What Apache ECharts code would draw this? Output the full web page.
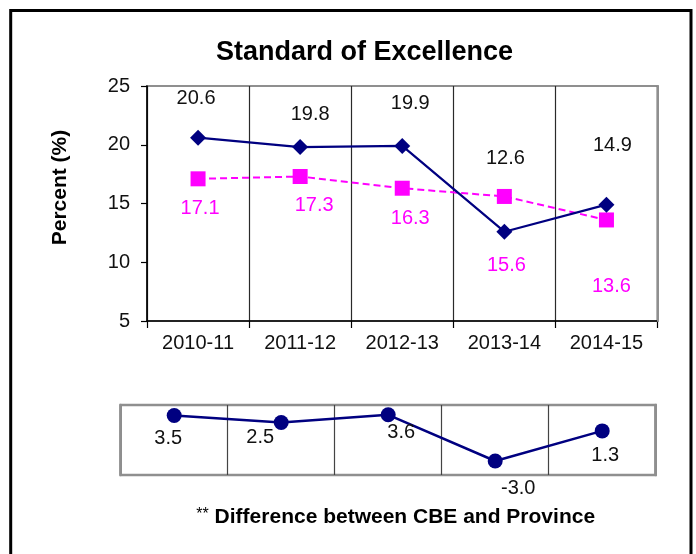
<!DOCTYPE html>
<html>
<head>
<meta charset="utf-8">
<script src="https://cdn.jsdelivr.net/npm/echarts@6/dist/echarts.min.js"></script>
<style>
html,body{margin:0;padding:0;background:#fff;}
#chart{width:696px;height:554px;}
</style>
</head>
<body>
<div id="chart"></div>
<script>
// ---- data ----
const categories = ['2010-11', '2011-12', '2012-13', '2013-14', '2014-15'];
const cbeValues = [20.6, 19.8, 19.9, 12.6, 14.9];
const provinceValues = [17.1, 17.3, 16.3, 15.6, 13.6];
const differenceValues = [3.5, 2.5, 3.6, -3.0, 1.3];
const yTickMin = 5;
const yTickMax = 25;
const yTickStep = 5;
const diffMin = -5;
const diffMax = 5;

// ---- label placement (style) ----
const cbeLabelOffsets = [[-2, -39], [10, -33], [8, -42], [1, -73], [6, -59]];
const provLabelOffsets = [[2, 30], [14, 29], [8, 30], [2, 69], [5, 67]];
const diffLabelOffsets = [[-6, 23], [-21, 15], [13, 18], [23, 27], [3, 25]];

const FONT = 'Liberation Sans, Arial, sans-serif';
const NAVY = '#000080';
const MAGENTA = '#FF00FF';
const BORDER_GRAY = '#8f8f8f';
const DIVIDER = '#2a2a2a';

function withLabels(values, offsets) {
  return values.map((v, i) => ({ value: v, label: { offset: offsets[i] } }));
}
const fmt = p => Number(p.value).toFixed(1);

const chart = echarts.init(document.getElementById('chart'), null, { renderer: 'canvas' });

const option = {
  backgroundColor: '#ffffff',
  animation: false,
  textStyle: { fontFamily: FONT },
  title: {
    text: 'Standard of Excellence',
    left: 211,
    top: 34,
    textStyle: { fontFamily: FONT, fontSize: 27, fontWeight: 'bold', color: '#000' }
  },
  grid: [
    { left: 147, top: 86, width: 510.5, height: 235, show: true, borderColor: BORDER_GRAY, borderWidth: 2, backgroundColor: 'transparent' },
    { left: 120.7, top: 405, width: 535, height: 70, show: true, borderColor: BORDER_GRAY, borderWidth: 2.5, backgroundColor: 'transparent' }
  ],
  xAxis: [
    {
      type: 'category', gridIndex: 0, data: categories, boundaryGap: true,
      axisLine: { show: true, lineStyle: { color: '#000', width: 1.5 } },
      axisTick: { show: true, alignWithLabel: false, length: 7, lineStyle: { color: '#000', width: 1.2 } },
      axisLabel: { show: true, fontFamily: FONT, fontSize: 20, color: '#111', margin: 12, interval: 0 },
      splitLine: { show: true, lineStyle: { color: DIVIDER, width: 1.2 } }
    },
    {
      type: 'category', gridIndex: 1, data: categories, boundaryGap: true,
      axisLine: { show: false }, axisTick: { show: false }, axisLabel: { show: false },
      splitLine: { show: true, lineStyle: { color: '#444', width: 1.2 } }
    }
  ],
  yAxis: [
    {
      type: 'value', gridIndex: 0, min: yTickMin, max: yTickMax, interval: yTickStep,
      name: 'Percent (%)', nameLocation: 'middle', nameGap: 76, nameRotate: 90,
      nameTextStyle: { fontFamily: FONT, fontSize: 21, fontWeight: 'bold', color: '#000', padding: [0, 0, 0, 32] },
      axisLine: { show: true, lineStyle: { color: '#000', width: 1.5 } },
      axisTick: { show: true, length: 6, lineStyle: { color: '#000', width: 1.2 } },
      axisLabel: { show: true, fontFamily: FONT, fontSize: 20, color: '#111', margin: 17 },
      splitLine: { show: false }
    },
    {
      type: 'value', gridIndex: 0, position: 'right', min: yTickMin, max: yTickMax, interval: yTickStep, z: 5,
      axisLine: { show: true, lineStyle: { color: BORDER_GRAY, width: 2 } },
      axisTick: { show: false }, axisLabel: { show: false }, splitLine: { show: false }
    },
    {
      type: 'value', gridIndex: 1, min: diffMin, max: diffMax, z: 5,
      axisLine: { show: true, lineStyle: { color: BORDER_GRAY, width: 2.5 } },
      axisTick: { show: false }, axisLabel: { show: false }, splitLine: { show: false }
    },
    {
      type: 'value', gridIndex: 1, position: 'right', min: diffMin, max: diffMax, z: 5,
      axisLine: { show: true, lineStyle: { color: BORDER_GRAY, width: 2.5 } },
      axisTick: { show: false }, axisLabel: { show: false }, splitLine: { show: false }
    }
  ],
  series: [
    {
      name: 'CBE', type: 'line', xAxisIndex: 0, yAxisIndex: 0, z: 4,
      data: withLabels(cbeValues, cbeLabelOffsets),
      symbol: 'diamond', symbolSize: 16,
      itemStyle: { color: NAVY },
      lineStyle: { color: NAVY, width: 2.2 },
      label: { show: true, position: 'inside', formatter: fmt, color: '#111', fontFamily: FONT, fontSize: 20, align: 'center', verticalAlign: 'middle' }
    },
    {
      name: 'Province', type: 'line', xAxisIndex: 0, yAxisIndex: 0, z: 3,
      data: withLabels(provinceValues, provLabelOffsets),
      symbol: 'rect', symbolSize: 15,
      itemStyle: { color: MAGENTA },
      lineStyle: { color: MAGENTA, width: 2, type: [7, 4] },
      label: { show: true, position: 'inside', formatter: fmt, color: MAGENTA, fontFamily: FONT, fontSize: 20, align: 'center', verticalAlign: 'middle' }
    },
    {
      name: 'Difference', type: 'line', xAxisIndex: 1, yAxisIndex: 2, z: 4,
      data: withLabels(differenceValues, diffLabelOffsets),
      symbol: 'circle', symbolSize: 15,
      itemStyle: { color: NAVY },
      lineStyle: { color: NAVY, width: 2.5 },
      label: { show: true, position: 'inside', formatter: fmt, color: '#111', fontFamily: FONT, fontSize: 20, align: 'center', verticalAlign: 'middle' }
    }
  ],
  graphic: [
    {
      type: 'rect', z: 100, silent: true,
      shape: { x: 10.7, y: 10.5, width: 680.3, height: 570 },
      style: { fill: 'none', stroke: '#000', lineWidth: 3 }
    },
    {
      type: 'text', z: 100, x: 395.7, y: 517,
      style: {
        text: '{s|**} Difference between CBE and Province',
        textAlign: 'center', textVerticalAlign: 'middle',
        rich: {
          s: { fontFamily: FONT, fontSize: 16, fontWeight: 'normal', fill: '#000', verticalAlign: 'top' }
        },
        fontFamily: FONT, fontSize: 21, fontWeight: 'bold', fill: '#000'
      }
    }
  ]
};

chart.setOption(option);
</script>
</body>
</html>
